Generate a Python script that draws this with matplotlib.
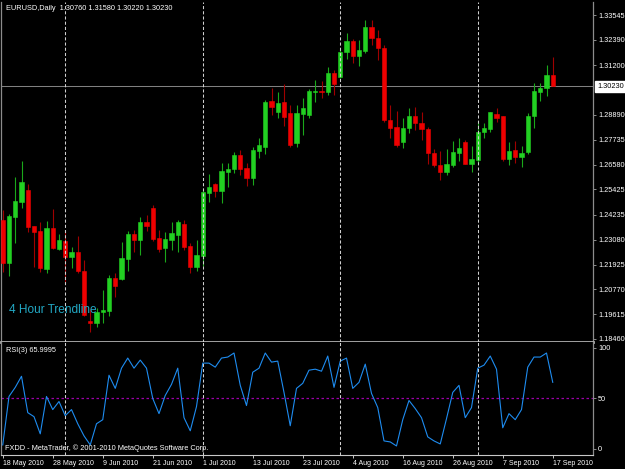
import numpy as np
import matplotlib
matplotlib.use("Agg")
from matplotlib import pyplot as plt
from matplotlib import transforms

plt.rcParams['font.family'] = ['Liberation Sans', 'DejaVu Sans']

# EURUSD daily, 18 May 2010 .. 17 Sep 2010
opens = [
    1.2400, 1.2200, 1.2414, 1.2484, 1.2540, 1.2372, 1.2349, 1.2172, 1.2363, 1.2265,
    1.2302, 1.2228, 1.2251, 1.2163, 1.1930, 1.1921, 1.1972, 1.1976, 1.2130, 1.2125,
    1.2219, 1.2335, 1.2307, 1.2391, 1.2456, 1.2316, 1.2270, 1.2307, 1.2330, 1.2382,
    1.2279, 1.2181, 1.2233, 1.2526, 1.2568, 1.2535, 1.2624, 1.2638, 1.2703, 1.2642,
    1.2596, 1.2721, 1.2740, 1.2954, 1.2903, 1.2950, 1.2898, 1.2759, 1.2894, 1.2889,
    1.2998, 1.3001, 1.2996, 1.3085, 1.3066, 1.3182, 1.3234, 1.3164, 1.3187, 1.3299,
    1.3247, 1.3201, 1.2866, 1.2834, 1.2763, 1.2830, 1.2886, 1.2853, 1.2824, 1.2712,
    1.2656, 1.2625, 1.2656, 1.2712, 1.2765, 1.2661, 1.2679, 1.2808, 1.2824, 1.2892,
    1.2884, 1.2683, 1.2726, 1.2695, 1.2717, 1.2884, 1.2995, 1.3016, 1.3076]
highs = [
    1.2447, 1.2428, 1.2600, 1.2675, 1.2568, 1.2374, 1.2391, 1.2395, 1.2451, 1.2335,
    1.2354, 1.2274, 1.2326, 1.2214, 1.1986, 1.1990, 1.2074, 1.2144, 1.2153, 1.2298,
    1.2349, 1.2354, 1.2414, 1.2423, 1.2470, 1.2354, 1.2344, 1.2391, 1.2400, 1.2400,
    1.2293, 1.2307, 1.2544, 1.2614, 1.2572, 1.2666, 1.2666, 1.2717, 1.2726, 1.2666,
    1.2740, 1.2782, 1.2959, 1.3015, 1.2996, 1.3033, 1.2936, 1.2936, 1.2968, 1.3010,
    1.3052, 1.3047, 1.3112, 1.3099, 1.3196, 1.3271, 1.3243, 1.3238, 1.3331, 1.3331,
    1.3285, 1.3215, 1.2936, 1.2909, 1.2876, 1.2922, 1.2928, 1.2904, 1.2834, 1.2731,
    1.2721, 1.2731, 1.2768, 1.2782, 1.2773, 1.2745, 1.2858, 1.2852, 1.2904, 1.2920,
    1.2884, 1.2765, 1.2769, 1.2746, 1.2897, 1.3037, 1.3039, 1.3122, 1.3158]
lows = [
    1.2158, 1.2139, 1.2293, 1.2456, 1.2344, 1.2181, 1.2158, 1.2153, 1.2265, 1.2260,
    1.2107, 1.2177, 1.2153, 1.1953, 1.1879, 1.1902, 1.1921, 1.1953, 1.2042, 1.2121,
    1.2163, 1.2251, 1.2237, 1.2349, 1.2302, 1.2251, 1.2205, 1.2260, 1.2251, 1.2260,
    1.2153, 1.2163, 1.2186, 1.2484, 1.2507, 1.2479, 1.2554, 1.2619, 1.2610, 1.2558,
    1.2563, 1.2689, 1.2707, 1.2889, 1.2875, 1.2838, 1.2740, 1.2740, 1.2796, 1.2875,
    1.2950, 1.2968, 1.2982, 1.2982, 1.3061, 1.3150, 1.3131, 1.3117, 1.3178, 1.3215,
    1.3145, 1.2856, 1.2782, 1.2740, 1.2735, 1.2805, 1.2819, 1.2773, 1.2661, 1.2648,
    1.2586, 1.2610, 1.2648, 1.2676, 1.2661, 1.2625, 1.2664, 1.2782, 1.2811, 1.2858,
    1.2676, 1.2656, 1.2667, 1.2645, 1.2707, 1.2827, 1.2956, 1.2979, 1.3022]
closes = [
    1.2200, 1.2419, 1.2489, 1.2577, 1.2368, 1.2344, 1.2177, 1.2363, 1.2270, 1.2307,
    1.2228, 1.2251, 1.2163, 1.1958, 1.1921, 1.1972, 1.1981, 1.2130, 1.2093, 1.2223,
    1.2335, 1.2307, 1.2391, 1.2372, 1.2312, 1.2265, 1.2312, 1.2340, 1.2391, 1.2274,
    1.2181, 1.2237, 1.2530, 1.2554, 1.2535, 1.2628, 1.2638, 1.2703, 1.2638, 1.2596,
    1.2726, 1.2749, 1.2950, 1.2926, 1.2945, 1.2880, 1.2749, 1.2898, 1.2922, 1.3001,
    1.3002, 1.2996, 1.3085, 1.3033, 1.3182, 1.3234, 1.3164, 1.3192, 1.3299, 1.3247,
    1.3201, 1.2866, 1.2830, 1.2749, 1.2828, 1.2884, 1.2852, 1.2824, 1.2712, 1.2656,
    1.2625, 1.2661, 1.2718, 1.2737, 1.2661, 1.2684, 1.2811, 1.2830, 1.2901, 1.2876,
    1.2683, 1.2723, 1.2692, 1.2711, 1.2886, 1.3002, 1.3013, 1.3076, 1.3023]
rsi = [
    4, 52, 61, 72, 36, 32, 15, 52, 39, 47,
    33, 39, 25, 13, 4, 25, 29, 73, 60, 80,
    90, 80, 88, 80, 50, 35, 53, 64, 80, 31,
    18, 42, 85, 85, 81, 90, 91, 95, 63, 43,
    76, 80, 95, 86, 87, 56, 23, 60, 65, 78,
    79, 77, 92, 61, 87, 90, 60, 66, 84, 55,
    41, 8, 7, 3, 29, 48, 40, 31, 12, 8,
    5, 30, 56, 63, 31, 41, 80, 83, 92, 79,
    21, 35, 29, 39, 81, 91, 91, 95, 66]

date_labels = ["18 May 2010", "28 May 2010", "9 Jun 2010", "21 Jun 2010", "1 Jul 2010",
               "13 Jul 2010", "23 Jul 2010", "4 Aug 2010", "16 Aug 2010", "26 Aug 2010",
               "7 Sep 2010", "17 Sep 2010"]
date_idx = list(range(0, 89, 8))
month_starts = [10, 32, 54, 76]
price_ticks = [1.33545, 1.32390, 1.31200, 1.28890, 1.27735, 1.26580, 1.25425,
               1.24235, 1.23080, 1.21925, 1.20770, 1.19615, 1.18460]
last_price = 1.30230

o = np.array(opens); h = np.array(highs); l = np.array(lows); c = np.array(closes)
x = np.arange(len(c))
up = c >= o

W, H = 625, 469
fig = plt.figure(figsize=(W / 100, H / 100), dpi=100, facecolor="black")
ax = fig.add_axes([1 / W, 1 - 342 / H, 592 / W, 340 / H])
ax2 = fig.add_axes([1 / W, 1 - 455 / H, 592 / W, 113 / H], sharex=ax)

grey = "#8c8c8c"
for a in (ax, ax2):
    a.set_facecolor("black")
    a.spines["top"].set_visible(False)
    for s in ("left", "right"):
        a.spines[s].set_color(grey)
        a.spines[s].set_linewidth(0.9)
    a.yaxis.tick_right()
    a.tick_params(axis="y", colors=grey, labelcolor="white", length=2.5, width=0.7,
                  labelsize=5.3, pad=1.2)
ax.spines["bottom"].set_color("#b0b0b0")
ax.spines["bottom"].set_linewidth(2.0)
ax2.spines["bottom"].set_color("#c8c8c8")
ax2.spines["bottom"].set_linewidth(0.8)

# candles
bull, bull_wick = "#22d022", "#1aa81a"
bear, bear_wick = "#ee0000", "#a00000"
ax.vlines(x[up], l[up], h[up], color=bull_wick, lw=0.8, zorder=2)
ax.vlines(x[~up], l[~up], h[~up], color=bear_wick, lw=0.8, zorder=2)
ax.bar(x[up], (c - o)[up], bottom=o[up], width=0.66, color=bull,
       edgecolor=bull, linewidth=0.4, zorder=3)
ax.bar(x[~up], (o - c)[~up], bottom=c[~up], width=0.66, color=bear,
       edgecolor=bear, linewidth=0.4, zorder=3)

ax.axhline(last_price, color="#808080", lw=0.75, zorder=1)
ax.set_xlim(-0.28, 94.44)
ax.set_ylim(1.18320, 1.34151)
ax.set_yticks(price_ticks)
ax.set_yticklabels([f"{p:.5f}" for p in price_ticks])
ax.tick_params(axis="x", bottom=False, labelbottom=False)

tr = transforms.blended_transform_factory(ax.transAxes, ax.transData)
ax.text(1.007, last_price, f"{last_price:.5f}", transform=tr, ha="left", va="center",
        fontsize=5.3, color="black", zorder=10, clip_on=False,
        bbox=dict(boxstyle="square,pad=0.25", facecolor="white", edgecolor="white"))

ax.text(5 / 592, 1 - 6 / 340, "EURUSD,Daily  %.5f %.5f %.5f %.5f" % (o[-1], h[-1], l[-1], c[-1]),
        transform=ax.transAxes, color="white", fontsize=5.3, ha="left", va="center")
ax.text(8 / 592, 1 - 308 / 340, "4 Hour Trendline", transform=ax.transAxes,
        color="#22a8c4", fontsize=8.6, ha="left", va="center")

# RSI panel
ax2.plot(x, rsi, color="#1e8cf0", lw=0.8, zorder=3)
ax2.axhline(50, color="#9a00a8", lw=0.9, ls=(0, (2, 2)), zorder=2)
ax2.set_ylim(-5.94, 105.9)
ax2.set_yticks([0, 50, 100])
ax2.set_xticks(date_idx)
ax2.set_xticklabels(date_labels)
ax2.tick_params(axis="x", colors="#c8c8c8", labelcolor="white", length=2.5, width=0.7,
                labelsize=5.0, pad=1.0)
plt.setp(ax2.get_xticklabels(), ha="left")
ax2.text(5 / 592, 1 - 8 / 113, "RSI(3) 65.9995", transform=ax2.transAxes,
         color="white", fontsize=5.3, ha="left", va="center")
ax2.text(4 / 592, 1 - 106 / 113, "FXDD - MetaTrader, \u00a9 2001-2010 MetaQuotes Software Corp.",
         transform=ax2.transAxes, color="white", fontsize=5.3, ha="left", va="center")

for a in (ax, ax2):
    for m in month_starts:
        a.axvline(m, color="#d0d0d0", lw=0.75, ls=(0, (3, 2)), zorder=5)

fig.savefig("out.png", dpi=100, facecolor="black")
